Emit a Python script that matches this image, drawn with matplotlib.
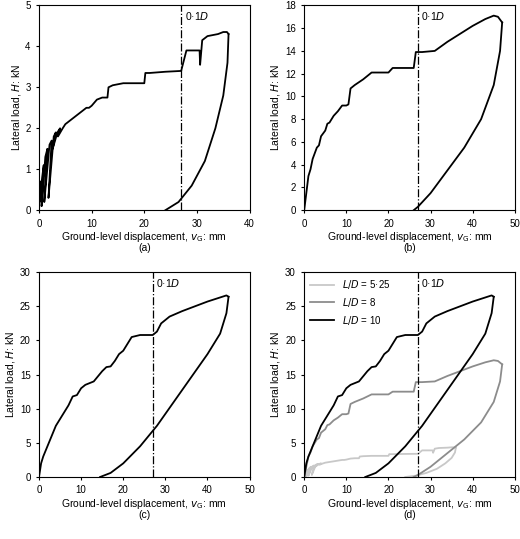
import matplotlib
matplotlib.use("Agg")
import matplotlib.pyplot as plt

# Panel (a) L/D = 5.25
a_x = [0,0.3,0.1,0.6,0.9,0.5,0.8,1.2,1.6,1.0,1.5,2.0,2.4,1.8,2.4,2.8,3.2,2.6,3.5,4.0,3.6,4.5,5.0,5.5,6,7,8,9,9.5,10,11,12,13,13.2,14,16,19,20,20.2,21,24,27,28,29,30,30.5,30.6,31,32,34,35,35.7,36]
a_y = [0,0.7,0.2,0.8,1.1,0.1,0.6,1.3,1.5,0.2,0.9,1.6,1.7,0.3,1.2,1.8,1.9,1.5,1.9,2.0,1.8,2.0,2.1,2.15,2.2,2.3,2.4,2.5,2.5,2.55,2.7,2.75,2.75,3.0,3.05,3.1,3.1,3.1,3.35,3.35,3.38,3.4,3.9,3.9,3.9,3.9,3.55,4.15,4.25,4.3,4.35,4.35,4.3]
a_ux = [36,35.8,35,33.5,31.5,29,26.5,24]
a_uy = [4.3,3.6,2.8,2.0,1.2,0.6,0.2,0]

# Panel (b) L/D = 8
b_x = [0,0.5,1,1.5,2,3,3.5,4,5,5.5,6,7,8,9,10,10.5,11,12,14,16,17,18,20,21,26,26.5,28,31,34,37,40,43,45,46,47]
b_y = [0,1.5,3.0,3.6,4.5,5.5,5.7,6.5,7.0,7.6,7.7,8.3,8.7,9.2,9.2,9.3,10.7,11.0,11.5,12.1,12.1,12.1,12.1,12.5,12.5,13.9,13.9,14.0,14.8,15.5,16.2,16.8,17.1,17.0,16.5]
b_ux = [47,46.5,45,42,38,34,30,27,26]
b_uy = [16.5,14,11,8,5.5,3.5,1.5,0.3,0]

# Panel (c) L/D = 10
c_x = [0,0.5,1,2,3,4,5,6,7,8,9,10,11,13,15,16,17,18,19,20,21,22,24,26,27,28,29,31,34,37,40,43,44.5,45]
c_y = [0,2,3,4.5,6,7.5,8.5,9.5,10.5,11.8,12,13,13.5,14,15.5,16.1,16.2,17,18,18.5,19.5,20.5,20.8,20.8,20.8,21.3,22.5,23.5,24.3,25,25.7,26.3,26.6,26.4]
c_ux = [45,44.5,43,40,36,32,28,24,20,17,14.5]
c_uy = [26.4,24,21,18,14.5,11,7.5,4.5,2,0.6,0]

ref_x = 27
panels = [("(a)", 40, 5, 1, 10), ("(b)", 50, 18, 2, 10), ("(c)", 50, 30, 5, 10), ("(d)", 50, 30, 5, 10)]

fig = plt.figure(figsize=(5.2, 5.39), dpi=100)
plt.rcParams['font.family'] = ['Liberation Sans', 'DejaVu Sans']
pos = [[0.075, 0.61, 0.405, 0.38], [0.585, 0.61, 0.405, 0.38],
       [0.075, 0.115, 0.405, 0.38], [0.585, 0.115, 0.405, 0.38]]
for i, (lab, xm, ym, ys, xs) in enumerate(panels):
    ax = fig.add_axes(pos[i])
    if i == 0:
        ax.plot(a_x, a_y, color='black', lw=1.3); ax.plot(a_ux, a_uy, color='black', lw=1.3)
    elif i == 1:
        ax.plot(b_x, b_y, color='black', lw=1.3); ax.plot(b_ux, b_uy, color='black', lw=1.3)
    elif i == 2:
        ax.plot(c_x, c_y, color='black', lw=1.3); ax.plot(c_ux, c_uy, color='black', lw=1.3)
    else:
        l1, = ax.plot(a_x, a_y, color='#c8c8c8', lw=1.3); ax.plot(a_ux, a_uy, color='#c8c8c8', lw=1.3)
        l2, = ax.plot(b_x, b_y, color='#8c8c8c', lw=1.3); ax.plot(b_ux, b_uy, color='#8c8c8c', lw=1.3)
        l3, = ax.plot(c_x, c_y, color='black', lw=1.3); ax.plot(c_ux, c_uy, color='black', lw=1.3)
        ax.legend([l1, l2, l3], ['$L/D$ = 5·25', '$L/D$ = 8', '$L/D$ = 10'], loc='upper left',
                  frameon=False, fontsize=7, handlelength=2.5, borderaxespad=0.2)
    ax.axvline(ref_x, color='black', lw=0.9, ls='-.')
    ax.text(ref_x + 0.8, ym * 0.93, '0·1$D$', fontsize=7.5)
    ax.set_xlim(0, xm); ax.set_ylim(0, ym)
    ax.set_xticks(range(0, xm + 1, xs)); ax.set_yticks(range(0, ym + 1, ys))
    ax.tick_params(labelsize=7, direction='out', length=2.5)
    ax.set_xlabel('Ground-level displacement, $v_\\mathrm{G}$: mm', fontsize=7.5, labelpad=1)
    ax.set_ylabel('Lateral load, $H$: kN', fontsize=7.5, labelpad=2)
    ax.text(0.5, -0.2, lab, transform=ax.transAxes, ha='center', fontsize=7.5)
fig.savefig('out.png', dpi=100)
